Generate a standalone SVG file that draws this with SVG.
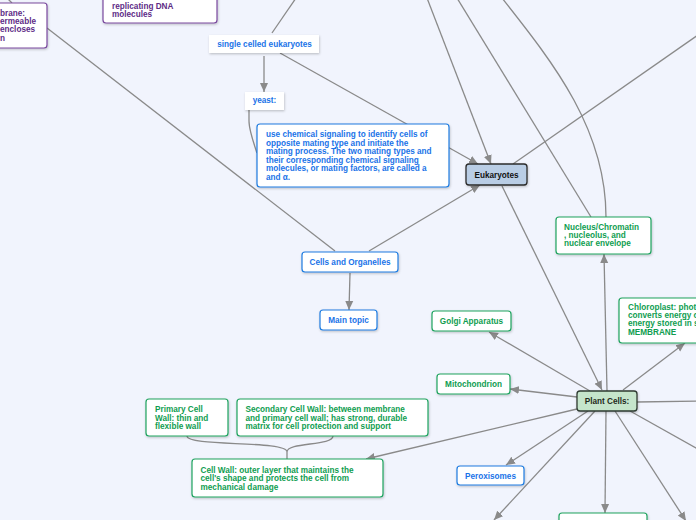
<svg xmlns="http://www.w3.org/2000/svg" width="696" height="520" viewBox="0 0 696 520">
<defs>
<marker id="ah" markerUnits="userSpaceOnUse" markerWidth="10" markerHeight="10" viewBox="0 0 10 10" refX="9" refY="5" orient="auto">
<path d="M0,1 L9,5 L0,9 Z" fill="#8a8a8a"/>
</marker>
<filter id="sh" x="-10%" y="-20%" width="130%" height="160%">
<feDropShadow dx="0.6" dy="1.2" stdDeviation="0.8" flood-color="#000" flood-opacity="0.22"/>
</filter>
<style>
text{font-family:"Liberation Sans",Arial,sans-serif;font-size:8.2px;font-weight:bold}
.c{fill:none;stroke:#8a8a8a;stroke-width:1.3}
.a{marker-end:url(#ah)}
.blue rect{fill:#fff;stroke:#1e7be0;stroke-width:1.2}
.blue text{fill:#1a73e8}
.green rect{fill:#fff;stroke:#1fa35f;stroke-width:1.2}
.green text{fill:#0f9d50}
.purple rect{fill:#fff;stroke:#7a4a9e;stroke-width:1.2}
.purple text{fill:#5e2b86}
.plain rect{fill:#fff;stroke:none}
.plain text{fill:#1a73e8}
.mid{text-anchor:middle}
rect{filter:url(#sh)}
</style>
</defs>
<rect x="0" y="0" width="696" height="520" fill="#f1f4fd" style="filter:none"/>
<g id="connectors">
<path class="c" d="M272,33 L296,-2"/>
<path class="c a" d="M264,56 L264,92"/>
<path class="c a" d="M280,53 L478,164"/>
<path class="c" d="M249,110 L249,121 C249,130 253,141 257,153"/>
<path class="c a" d="M427,-2 L491,164"/>
<path class="c" d="M457,-2 L591,217"/>
<path class="c" d="M502,-2 C555,65 606,130 606,217"/>
<path class="c" d="M513,164 L698,35"/>
<path class="c a" d="M502,186 L602,390"/>
<path class="c" d="M47,28 L335,251"/>
<path class="c a" d="M369,251 L480,185"/>
<path class="c a" d="M350,273 L349,310"/>
<path class="c a" d="M590,391 L489,332"/>
<path class="c a" d="M607,391 L604,254"/>
<path class="c a" d="M623,390 L685,343"/>
<path class="c" d="M637,402 L698,401"/>
<path class="c a" d="M577,397 L510,389"/>
<path class="c a" d="M577,409 L366,459"/>
<path class="c a" d="M588,411 L506,465"/>
<path class="c a" d="M595,411 L494,520"/>
<path class="c a" d="M606,411 L605,513"/>
<path class="c a" d="M615,411 L686,521"/>
<path class="c" d="M630,411 L698,449"/>
<path class="c" d="M187,436 C187,447 287,440 287,452 L287,459 M333,436 C333,446 287,442 287,452"/>
<path class="c" d="M4,-5 L12,3"/>
</g>
<g id="membrane" class="purple">
<rect x="-20" y="3" width="67" height="45" rx="3"/>
<text x="0" y="15.5">brane:</text>
<text x="0" y="24">ermeable</text>
<text x="0" y="32.3">encloses</text>
<text x="0" y="40.5">n</text>
</g>
<g id="replicating" class="purple">
<rect x="103" y="-10" width="114" height="33" rx="3"/>
<text x="112" y="8.5">replicating DNA</text>
<text x="112" y="16.6">molecules</text>
</g>
<g id="single-celled" class="plain">
<rect x="209" y="35" width="110" height="18"/>
<text class="mid" x="264.5" y="46.5">single celled eukaryotes</text>
</g>
<g id="yeast" class="plain">
<rect x="245" y="92" width="39" height="18"/>
<text class="mid" x="264.5" y="103">yeast:</text>
</g>
<g id="chemical" class="blue">
<rect x="257" y="124" width="192" height="63" rx="3"/>
<text x="266" y="137.1">use chemical signaling to identify cells of</text>
<text x="266" y="145.5">opposite mating type and initiate the</text>
<text x="266" y="154.1">mating process. The two mating types and</text>
<text x="266" y="162.5">their corresponding chemical signaling</text>
<text x="266" y="171.1">molecules, or mating factors, are called a</text>
<text x="266" y="179.5">and α.</text>
</g>
<g id="eukaryotes">
<rect x="466" y="164" width="61" height="21" rx="3" fill="#b9cde5" stroke="#2b2b2b" stroke-width="1.3"/>
<text class="mid" x="496.5" y="177.8" fill="#111">Eukaryotes</text>
</g>
<g id="cells-organelles" class="blue">
<rect x="302" y="252" width="96" height="20" rx="3"/>
<text class="mid" x="350" y="264.8">Cells and Organelles</text>
</g>
<g id="main-topic" class="blue">
<rect x="320" y="310" width="57" height="20" rx="3"/>
<text class="mid" x="348.5" y="322.8">Main topic</text>
</g>
<g id="nucleus" class="green">
<rect x="556" y="217" width="95" height="37" rx="3"/>
<text x="564" y="229.5">Nucleus/Chromatin</text>
<text x="564" y="237.8">, nucleolus, and</text>
<text x="564" y="246.1">nuclear envelope</text>
</g>
<g id="chloroplast" class="green">
<rect x="619" y="298" width="90" height="45" rx="3"/>
<text x="628" y="309.5">Chloroplast: phot</text>
<text x="628" y="317.8">converts energy o</text>
<text x="628" y="326.3">energy stored in s</text>
<text x="628" y="334.8">MEMBRANE</text>
</g>
<g id="golgi" class="green">
<rect x="432" y="311" width="79" height="20" rx="3"/>
<text class="mid" x="471.5" y="323.8">Golgi Apparatus</text>
</g>
<g id="mitochondrion" class="green">
<rect x="437" y="374" width="73" height="20" rx="3"/>
<text class="mid" x="473.5" y="386.8">Mitochondrion</text>
</g>
<g id="plant-cells">
<rect x="577" y="391" width="60" height="20" rx="3" fill="#c5e5cb" stroke="#2e3b30" stroke-width="1.3"/>
<text class="mid" x="607" y="403.8" fill="#1e2a20">Plant Cells:</text>
</g>
<g id="peroxisomes" class="blue">
<rect x="457" y="466" width="67" height="19" rx="3"/>
<text class="mid" x="490.5" y="478.5">Peroxisomes</text>
</g>
<g id="bottom-node" class="green">
<rect x="559" y="513" width="88" height="20" rx="3"/>
</g>
<g id="primary-wall" class="green">
<rect x="146" y="399" width="82" height="37" rx="3"/>
<text x="155" y="412.1">Primary Cell</text>
<text x="155" y="420.5">Wall: thin and</text>
<text x="155" y="429.1">flexible wall</text>
</g>
<g id="secondary-wall" class="green">
<rect x="237" y="399" width="191" height="37" rx="3"/>
<text x="245.5" y="412.1">Secondary Cell Wall: between membrane</text>
<text x="245.5" y="420.5">and primary cell wall; has strong, durable</text>
<text x="245.5" y="429.1">matrix for cell protection and support</text>
</g>
<g id="cell-wall" class="green">
<rect x="192" y="459" width="191" height="38" rx="3"/>
<text x="200.5" y="472.5">Cell Wall: outer layer that maintains the</text>
<text x="200.5" y="480.8">cell's shape and protects the cell from</text>
<text x="200.5" y="489.5">mechanical damage</text>
</g>
</svg>
